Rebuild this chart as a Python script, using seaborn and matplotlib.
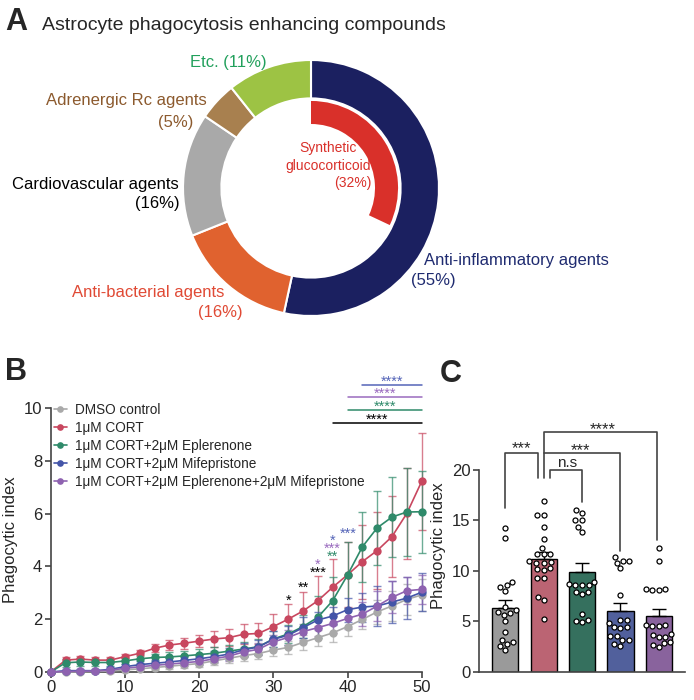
import numpy as np
import pandas as pd
import matplotlib
matplotlib.use("Agg")
import matplotlib.pyplot as plt
import seaborn as sns

# ---- A: donut of compound classes
outer_labels = ["Anti-inflammatory agents", "Anti-bacterial agents", "Cardiovascular agents",
                "Adrenergic Rc agents", "Etc."]
outer_pct = [55, 16, 16, 5, 11]
outer_colors = ["#1b2060", "#e0622f", "#a9a9a9", "#a8804f", "#9dc344"]
inner_pct = [32, 68]          # synthetic glucocorticoid share
inner_color = "#d9302a"

# ---- B: phagocytic index over time
time_min = [0, 2, 4, 6, 8, 10, 12, 14, 16, 18, 20, 22, 24, 26, 28, 30, 32, 34, 36, 38, 40, 42, 44, 46, 48, 50]
conditions = ["DMSO control", "1μM CORT", "1μM CORT+2μM Eplerenone",
              "1μM CORT+2μM Mifepristone", "1μM CORT+2μM Eplerenone+2μM Mifepristone"]
dmso_mean = [0, 0.0, 0.01, 0.02, 0.04, 0.08, 0.12, 0.17, 0.22, 0.27, 0.32, 0.42, 0.52, 0.62, 0.70,
             0.83, 0.93, 1.12, 1.30, 1.48, 1.72, 1.99, 2.28, 2.50, 2.75, 2.92]
cort_mean = [0, 0.45, 0.49, 0.45, 0.45, 0.58, 0.71, 0.90, 1.02, 1.09, 1.17, 1.25, 1.30, 1.43, 1.46,
             1.72, 2.00, 2.31, 2.70, 3.21, 3.68, 4.18, 4.60, 5.13, 6.01, 7.22]
epl_mean = [0, 0.35, 0.38, 0.36, 0.36, 0.42, 0.50, 0.55, 0.57, 0.61, 0.66, 0.71, 0.79, 0.87, 0.96,
            1.25, 1.44, 1.72, 2.07, 2.70, 3.67, 4.74, 5.46, 5.87, 6.06, 6.07]
mif_mean = [0, 0.05, 0.05, 0.05, 0.10, 0.20, 0.28, 0.33, 0.38, 0.44, 0.50, 0.58, 0.68, 0.84, 0.95,
            1.24, 1.39, 1.68, 1.97, 2.12, 2.36, 2.46, 2.50, 2.65, 2.80, 3.02]
both_mean = [0, 0.02, 0.03, 0.04, 0.07, 0.14, 0.20, 0.25, 0.30, 0.35, 0.40, 0.50, 0.60, 0.76, 0.86,
             1.14, 1.31, 1.53, 1.68, 1.84, 2.03, 2.19, 2.50, 2.83, 3.08, 3.13]
dmso_se = [0.02, 0.03, 0.04, 0.05, 0.06, 0.08, 0.10, 0.10, 0.12, 0.12, 0.14, 0.15, 0.18, 0.20, 0.20,
           0.22, 0.25, 0.28, 0.30, 0.35, 0.35, 0.35, 0.45, 0.55, 0.60, 0.62]
cort_se = [0.03, 0.12, 0.12, 0.10, 0.10, 0.12, 0.12, 0.15, 0.20, 0.20, 0.22, 0.30, 0.32, 0.38, 0.40,
           0.48, 0.57, 0.73, 0.95, 1.07, 1.23, 1.40, 1.45, 1.55, 1.73, 1.83]
epl_se = [0.03, 0.15, 0.15, 0.12, 0.12, 0.12, 0.15, 0.15, 0.18, 0.20, 0.20, 0.22, 0.25, 0.28, 0.30,
          0.32, 0.35, 0.45, 0.80, 0.90, 1.25, 1.32, 1.40, 1.50, 1.68, 1.55]
mif_se = [0.02, 0.05, 0.05, 0.05, 0.08, 0.10, 0.12, 0.12, 0.15, 0.15, 0.18, 0.20, 0.22, 0.25, 0.28,
          0.30, 0.35, 0.40, 0.30, 0.35, 0.45, 0.55, 0.75, 0.80, 0.80, 0.72]
both_se = [0.02, 0.04, 0.05, 0.05, 0.06, 0.08, 0.10, 0.10, 0.12, 0.12, 0.15, 0.15, 0.18, 0.20, 0.22,
           0.25, 0.28, 0.30, 0.30, 0.35, 0.40, 0.45, 0.55, 0.60, 0.50, 0.55]
line_colors = ["#a9a9a9", "#c8475f", "#2f8a6a", "#4455a8", "#8e62b0"]

# ---- C: phagocytic index per well at endpoint
c_groups = ["DMSO", "CORT", "CORT+Epl", "CORT+Mif", "CORT+Epl+Mif"]
c_dmso = [14.2, 13.2, 8.9, 8.4, 8.6, 8.0, 6.4, 6.1, 5.9, 5.6, 5.8, 5.0, 4.0, 3.2, 3.0, 2.8, 2.6, 2.2]
c_cort = [16.9, 15.5, 15.5, 14.3, 13.1, 12.3, 11.7, 11.7, 11.7, 11.0, 10.9, 10.8, 10.8, 10.3, 10.2,
          10.1, 9.3, 9.3, 7.4, 7.1, 5.2]
c_epl = [16.0, 15.7, 15.0, 15.0, 14.3, 13.8, 8.9, 8.7, 8.6, 8.6, 8.6, 7.9, 7.7, 7.9, 5.7, 5.1, 4.9, 5.0]
c_mif = [11.4, 11.0, 11.0, 10.8, 10.3, 7.6, 5.1, 5.1, 4.8, 4.4, 4.3, 4.4, 3.6, 3.6, 3.2, 3.2, 2.6, 2.8]
c_both = [12.3, 11.0, 8.2, 8.2, 8.1, 8.1, 4.6, 4.5, 4.5, 4.6, 3.8, 3.5, 3.5, 3.7, 2.9, 2.5, 2.7, 3.0]
bar_colors = ["#9a9a9a", "#c9566a", "#2b7a62", "#4559a8", "#8c5aa6"]

sns.set_style("ticks")
plt.rcParams["font.family"] = ["Liberation Sans", "DejaVu Sans"]
plt.rcParams["axes.edgecolor"] = "#444444"

W, H = 694, 700
fig = plt.figure(figsize=(W / 100, H / 100), dpi=100)


def fx(x):
    return x / W


def fy(y):
    return 1 - y / H


# ---------------- panel A
cx, cy, half = 311, 188, 150
axA = fig.add_axes([fx(cx - half), fy(cy + half), 2 * half / W, 2 * half / H])
axA.pie(outer_pct, colors=outer_colors, startangle=90, counterclock=False, radius=1.0,
        wedgeprops=dict(width=0.30, edgecolor="white", linewidth=1.5))
axA.pie(inner_pct, colors=[inner_color, (0, 0, 0, 0)], startangle=90, counterclock=False, radius=0.68,
        wedgeprops=dict(width=0.18, edgecolor="none"))
lim = half / 128
axA.set_xlim(-lim, lim)
axA.set_ylim(-lim, lim)
axA.set_aspect("auto")
axA.axis("off")

fig.text(fx(5), fy(22), "A", fontsize=22, fontweight="bold", va="center")
fig.text(fx(42), fy(25), "Astrocyte phagocytosis enhancing compounds", fontsize=14, va="center")
lab = dict(fontsize=12, va="center")
fig.text(fx(228), fy(62), "Etc. (11%)", color="#22a05c", ha="center", **lab)
fig.text(fx(207), fy(100), "Adrenergic Rc agents", color="#8c5a2e", ha="right", **lab)
fig.text(fx(193), fy(122), "(5%)", color="#8c5a2e", ha="right", **lab)
fig.text(fx(179), fy(184), "Cardiovascular agents", color="black", ha="right", **lab)
fig.text(fx(180), fy(204), "(16%)", color="black", ha="right", **lab)
fig.text(fx(224), fy(292), "Anti-bacterial agents", color="#e04a35", ha="right", **lab)
fig.text(fx(243), fy(312), "(16%)", color="#e04a35", ha="right", **lab)
fig.text(fx(424), fy(260), "Anti-inflammatory agents", color="#1f2b70", ha="left", **lab)
fig.text(fx(411), fy(280), "(55%)", color="#1f2b70", ha="left", **lab)
inner_lab = dict(fontsize=10, va="center", color=inner_color)
fig.text(fx(328), fy(148), "Synthetic", ha="center", **inner_lab)
fig.text(fx(328), fy(166), "glucocorticoid", ha="center", **inner_lab)
fig.text(fx(371), fy(183), "(32%)", ha="right", **inner_lab)

# ---------------- panel B
means = [dmso_mean, cort_mean, epl_mean, mif_mean, both_mean]
ses = [dmso_se, cort_se, epl_se, mif_se, both_se]
df_b = pd.concat([pd.DataFrame({"time": time_min, "index": m, "se": s, "cond": c})
                  for m, s, c in zip(means, ses, conditions)], ignore_index=True)

axB = fig.add_axes([fx(50.7), fy(672), 371 / W, 264 / H])
for cond, col in zip(conditions, line_colors):
    d = df_b[df_b["cond"] == cond]
    axB.errorbar(d["time"], d["index"], yerr=d["se"], fmt="none", ecolor=col, alpha=0.7,
                 elinewidth=1.0, capsize=3, capthick=1.0, zorder=1.5, clip_on=False)
sns.lineplot(data=df_b, x="time", y="index", hue="cond", hue_order=conditions, palette=line_colors,
             marker="o", markersize=6, markeredgewidth=0, linewidth=1.2, legend=False,
             ax=axB, clip_on=False, zorder=3)
handles = [l for l in axB.get_lines()][-5:]
axB.legend(handles, conditions, loc="upper left", bbox_to_anchor=(0.008, 1.02), frameon=False,
           fontsize=9.8, handlelength=1.0, handletextpad=0.6, labelspacing=0.3,
           borderpad=0, borderaxespad=0, markerscale=0.8)
axB.set_xlim(0, 50)
axB.set_ylim(0, 10)
axB.set_xticks([0, 10, 20, 30, 40, 50])
axB.set_yticks([0, 2, 4, 6, 8, 10])
axB.set_xlabel("")
axB.set_ylabel("Phagocytic index", fontsize=12, labelpad=4)
axB.tick_params(labelsize=12, length=4, width=1.2, color="#444444", pad=2)
for sp in ["left", "bottom"]:
    axB.spines[sp].set_linewidth(1.2)
sns.despine(ax=axB)

# point-wise significance
star_pts = [(32, 2.85, "*", "black"), (34, 3.36, "**", "black"), (36, 3.93, "***", "black"),
            (36, 4.24, "*", "#9a6bbf"), (38, 4.52, "**", "#2f8a6a"), (38, 4.82, "***", "#9a6bbf"),
            (38, 5.13, "*", "#5565b8"), (40.1, 5.42, "***", "#5565b8")]
for x, y, s, c in star_pts:
    axB.text(x, y - 0.32, s, ha="center", va="baseline", fontsize=10.5, color=c)

# range significance lines
sig_lines = [(38, 9.45, 44, "black"), (40, 9.94, 45, "#2f8a6a"), (40, 10.43, 45, "#9a6bbf"),
             (42, 10.87, 46, "#5565b8")]
for x0, y, xt, c in sig_lines:
    axB.plot([x0, 50], [y, y], color=c, lw=1.1, clip_on=False)
    axB.text(xt, y - 0.04, "****", ha="center", va="baseline", fontsize=10.5, color=c, clip_on=False)

fig.text(fx(5), fy(372), "B", fontsize=22, fontweight="bold", va="center")

# ---------------- panel C
c_vals = [c_dmso, c_cort, c_epl, c_mif, c_both]
df_c = pd.concat([pd.DataFrame({"group": g, "value": v}) for g, v in zip(c_groups, c_vals)],
                 ignore_index=True)
stats = df_c.groupby("group", sort=False)["value"].agg(["mean", "sem"]).reindex(c_groups)

axC = fig.add_axes([fx(479), fy(672), 206 / W, 253 / H])
sns.barplot(data=df_c, x="group", y="value", hue="group", order=c_groups, hue_order=c_groups,
            palette=bar_colors, errorbar=None, width=0.68, edgecolor="black", linewidth=1.0,
            legend=False, ax=axC, zorder=1)
axC.errorbar(range(len(c_groups)), stats["mean"], yerr=[np.zeros(len(c_groups)), stats["sem"]],
             fmt="none", ecolor="black", elinewidth=1.0, capsize=5, capthick=1.0, zorder=2)
sns.swarmplot(data=df_c, x="group", y="value", order=c_groups, color="white", edgecolor="black",
              linewidth=0.9, size=3.6, ax=axC, zorder=3)
axC.set_xlim(-0.68, 4.68)
axC.set_ylim(0, 25)
axC.set_yticks([0, 5, 10, 15, 20])
axC.set_xticks([])
axC.set_xlabel("")
axC.set_ylabel("Phagocytic index", fontsize=12, labelpad=4)
axC.tick_params(labelsize=12, length=4, width=1.2, color="#444444", pad=2)
sns.despine(ax=axC)
axC.spines["left"].set_bounds(0, 20)
for sp in ["left", "bottom"]:
    axC.spines[sp].set_linewidth(1.2)

br = dict(color="#444444", lw=1.2, clip_on=False)
axC.plot([0, 0, 0.86, 0.86], [16.2, 21.6, 21.6, 19.2], **br)
axC.plot([1.17, 1.17, 1.99, 1.99], [19.2, 20.0, 20.0, 16.8], **br)
axC.plot([1.01, 1.01, 2.99, 2.99], [19.2, 21.65, 21.65, 12.0], **br)
axC.plot([1.01, 1.01, 3.96, 3.96], [21.65, 23.75, 23.75, 13.0], **br)
axC.text(0.43, 22.55 - 0.96, "***", ha="center", va="baseline", fontsize=12)
axC.text(1.6, 20.25, "n.s", ha="center", va="baseline", fontsize=11)
axC.text(1.95, 22.4 - 0.96, "***", ha="center", va="baseline", fontsize=12)
axC.text(2.55, 24.5 - 0.96, "****", ha="center", va="baseline", fontsize=12, clip_on=False)

fig.text(fx(440), fy(374), "C", fontsize=22, fontweight="bold", va="center")

fig.savefig("out.png", dpi=100)
